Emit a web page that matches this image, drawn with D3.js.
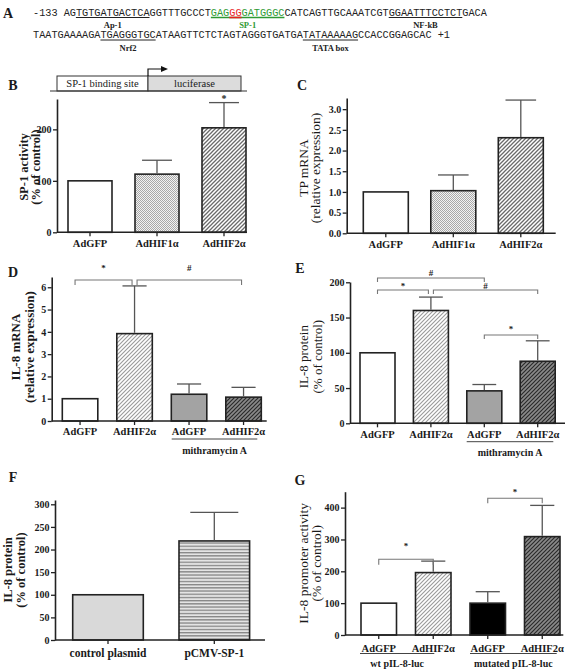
<!DOCTYPE html>
<html><head><meta charset="utf-8">
<script src="https://cdn.jsdelivr.net/npm/d3@7"></script>
<style>body{margin:0;background:#fff}svg{display:block}svg text{font-family:'Liberation Serif','Times New Roman',serif}</style>
</head><body>
<svg id="fig" width="570" height="671"></svg>
<script>
// ---------- Data ----------
const seqPrefix = "-133 ";
const seqLine1 = "AGTGTGATGACTCAGGTTTGCCCTGAGGGGATGGGCCATCAGTTGCAAATCGTGGAATTTCCTCTGACA";
const seqLine2 = "TAATGAAAAGATGAGGGTGCATAAGTTCTCTAGTAGGGTGATGATATAAAAAGCCACCGGAGCAC";
const seqSuffix = " +1";
// binding sites: line, start char index (incl. prefix), length, label
const sites = [
  {line: 1, start: 7, len: 12, label: "Ap-1"},
  {line: 1, start: 29, len: 12, label: "SP-1", color: "#2f9a34"},
  {line: 1, start: 58, len: 12, label: "NF-kB"},
  {line: 2, start: 11, len: 9, label: "Nrf2"},
  {line: 2, start: 44, len: 9, label: "TATA box"}
];

const catsB = ["AdGFP", "AdHIF1α", "AdHIF2α"];
const valsB = [100, 113, 203];
const errB  = [0, 27, 49];
const ticksB = [0, 100, 200];

const catsC = ["AdGFP", "AdHIF1α", "AdHIF2α"];
const valsC = [1.0, 1.03, 2.31];
const errC  = [0, 0.38, 0.91];
const ticksC = [0, 0.5, 1.0, 1.5, 2.0, 2.5, 3.0];

const catsD = ["AdGFP", "AdHIF2α", "AdGFP", "AdHIF2α"];
const valsD = [1.0, 3.92, 1.2, 1.07];
const errD  = [0, 2.14, 0.46, 0.44];
const ticksD = [0, 1, 2, 3, 4, 5, 6];

const catsE = ["AdGFP", "AdHIF2α", "AdGFP", "AdHIF2α"];
const valsE = [100, 160, 46, 88];
const errE  = [0, 19, 9, 29];
const ticksE = [0, 50, 100, 150, 200];

const catsF = ["control plasmid", "pCMV-SP-1"];
const valsF = [100, 219];
const errF  = [0, 63];
const ticksF = [0, 50, 100, 150, 200, 250, 300];

const catsG = ["AdGFP", "AdHIF2α", "AdGFP", "AdHIF2α"];
const valsG = [100, 196, 100, 309];
const errG  = [0, 36, 36, 98];
const ticksG = [0, 100, 200, 300, 400];

// ---------- Drawing ----------
const svg = d3.select("#fig");
const SERIF = "'Liberation Serif','Times New Roman',serif";
const INK = "#1a1a1a";
function serif(sel, size, weight) {
  return sel.style("font-family", SERIF).style("font-size", size + "px").style("font-weight", weight || "bold").attr("fill", INK);
}

// patterns
const defs = svg.append("defs");
function diagPattern(id, bg, stroke, sw) {
  const p = defs.append("pattern").attr("id", id).attr("patternUnits", "userSpaceOnUse")
    .attr("width", 4).attr("height", 4);
  p.append("rect").attr("width", 4).attr("height", 4).attr("fill", bg);
  p.append("path").attr("d", "M-1,1 L1,-1 M0,4 L4,0 M3,5 L5,3")
    .attr("stroke", stroke).attr("stroke-width", sw);
}
diagPattern("hatchB", "#fff", "#6a6a6a", 1.3);
diagPattern("hatchL", "#fff", "#9a9a9a", 1.1);
diagPattern("hatchD", "#8a8a8a", "#2a2a2a", 1.2);
(function(){
  const p = defs.append("pattern").attr("id", "dots").attr("patternUnits", "userSpaceOnUse")
    .attr("width", 2).attr("height", 2);
  p.append("rect").attr("width", 2).attr("height", 2).attr("fill", "#f2f2f2");
  p.append("rect").attr("width", 1).attr("height", 1).attr("fill", "#a8a8a8");
  p.append("rect").attr("x", 1).attr("y", 1).attr("width", 1).attr("height", 1).attr("fill", "#a8a8a8");
  const q = defs.append("pattern").attr("id", "hstripe").attr("patternUnits", "userSpaceOnUse")
    .attr("width", 4).attr("height", 3.2);
  q.append("rect").attr("width", 4).attr("height", 3.2).attr("fill", "#e4e4e4");
  q.append("rect").attr("y", 1.6).attr("width", 4).attr("height", 1.3).attr("fill", "#858585");
})();

// panel letters
[["A", 8, 13], ["B", 13, 85], ["C", 302, 85], ["D", 13, 272], ["E", 300, 268], ["F", 13, 477], ["G", 300, 480]]
  .forEach(([t, x, y]) => serif(svg.append("text").attr("x", x).attr("y", y).attr("dy", "0.36em")
    .attr("text-anchor", "middle"), 14).text(t));

// ---------- Panel A: sequence ----------
(function(){
  const x0 = 33, targetCw = 6.14;
  const mono = "'Liberation Mono','Courier New',monospace";
  const line1 = seqPrefix + seqLine1;
  const line2 = seqLine2 + seqSuffix;
  const base = {1: 15.5, 2: 38};
  const t1 = svg.append("text").attr("x", x0).attr("y", base[1]).style("font-family", mono)
    .style("font-size", "10px").attr("fill", "#222").attr("xml:space", "preserve");
  const green = sites[1];
  const redStart = 32, redLen = 2;
  const segs = [
    [line1.slice(0, green.start), "#222"],
    [line1.slice(green.start, redStart), green.color],
    [line1.slice(redStart, redStart + redLen), "#e8231f"],
    [line1.slice(redStart + redLen, green.start + green.len), green.color],
    [line1.slice(green.start + green.len), "#222"]
  ];
  segs.forEach(([s, c]) => t1.append("tspan").attr("fill", c).text(s));
  const cw0 = t1.node().getComputedTextLength() / line1.length;
  const fs = 10 * targetCw / cw0;
  t1.style("font-size", fs + "px");
  svg.append("text").attr("x", x0).attr("y", base[2]).style("font-family", mono)
    .style("font-size", fs + "px").attr("fill", "#222").attr("xml:space", "preserve").text(line2);
  const cw = t1.node().getComputedTextLength() / line1.length;
  sites.forEach(s => {
    const xa = x0 + s.start * cw, xb = x0 + (s.start + s.len) * cw;
    const uy = base[s.line] + 2;
    svg.append("line").attr("x1", xa).attr("x2", xb).attr("y1", uy).attr("y2", uy)
      .attr("stroke", s.color || "#222").attr("stroke-width", s.color ? 1.6 : 1);
    if (s.color) {
      svg.append("line").attr("x1", x0 + redStart * cw).attr("x2", x0 + (redStart + redLen) * cw)
        .attr("y1", uy).attr("y2", uy).attr("stroke", "#e8231f").attr("stroke-width", 1.6);
    }
    serif(svg.append("text").attr("x", (xa + xb) / 2).attr("y", base[s.line] + 12.5)
      .attr("text-anchor", "middle"), 8.5).attr("fill", s.color || "#222").text(s.label);
  });
})();

// ---------- Panel B schematic ----------
(function(){
  const g = svg.append("g");
  g.append("rect").attr("x", 57).attr("y", 76).attr("width", 91).attr("height", 15)
    .attr("fill", "#fff").attr("stroke", "#333").attr("stroke-width", 1);
  g.append("rect").attr("x", 148).attr("y", 76).attr("width", 93).attr("height", 15)
    .attr("fill", "#dcdcdc").attr("stroke", "#333").attr("stroke-width", 1);
  g.append("line").attr("x1", 50).attr("x2", 247).attr("y1", 91).attr("y2", 91)
    .attr("stroke", "#333").attr("stroke-width", 1.2);
  serif(g.append("text").attr("x", 102.5).attr("y", 83.5).attr("dy", "0.35em").attr("text-anchor", "middle"), 10.5, "normal").text("SP-1 binding site");
  serif(g.append("text").attr("x", 194.5).attr("y", 83.5).attr("dy", "0.35em").attr("text-anchor", "middle"), 10.5, "normal").text("luciferase");
  g.append("path").attr("d", "M148,76 V69 H162").attr("fill", "none").attr("stroke", "#111").attr("stroke-width", 1.2);
  g.append("path").attr("d", "M161,66 L168,69 L161,72 Z").attr("fill", "#111");
})();

// ---------- Generic bar panel ----------
function barPanel(c) {
  const g = svg.append("g");
  const n = c.cats.length;
  const y = d3.scaleLinear().domain([0, c.yMax]).range([c.yBottom, c.yTop]);
  const pad = (c.step - c.barW) / c.step;
  const x = d3.scaleBand().domain(d3.range(n))
    .range([c.barLeft, c.barLeft + n * c.step - (c.step - c.barW)])
    .paddingInner(pad).paddingOuter(0);
  const cx = i => x(i) + x.bandwidth() / 2;

  g.selectAll("rect.bar").data(c.vals).join("rect").attr("class", "bar")
    .attr("x", (d, i) => x(i)).attr("width", x.bandwidth())
    .attr("y", d => y(d)).attr("height", d => y(0) - y(d))
    .attr("fill", (d, i) => c.fills[i]).attr("stroke", "#222").attr("stroke-width", 1.6);

  const capW = x.bandwidth() * 0.68;
  c.vals.forEach((v, i) => {
    const e = c.errs[i];
    if (!e) return;
    g.append("line").attr("x1", cx(i)).attr("x2", cx(i)).attr("y1", y(v) - 0.8).attr("y2", y(v + e))
      .attr("stroke", "#555").attr("stroke-width", 1.3);
    g.append("line").attr("x1", cx(i) - capW / 2).attr("x2", cx(i) + capW / 2)
      .attr("y1", y(v + e)).attr("y2", y(v + e)).attr("stroke", "#555").attr("stroke-width", 1.3);
  });

  const ya = g.append("g").attr("transform", `translate(${c.axisX},0)`)
    .call(d3.axisLeft(y).tickValues(c.ticks).tickFormat(c.fmt || d3.format("d")).tickSize(4).tickSizeOuter(0));
  ya.select(".domain").attr("stroke", "#222").attr("stroke-width", 1.6);
  ya.selectAll(".tick line").attr("stroke", "#222").attr("stroke-width", 1.3);
  serif(ya.selectAll(".tick text"), c.tickFs || 10).attr("x", -5.5);

  g.append("line").attr("x1", c.axisX).attr("x2", c.xEnd).attr("y1", c.yBottom).attr("y2", c.yBottom)
    .attr("stroke", "#222").attr("stroke-width", 1.6);
  const xa = g.append("g").attr("transform", `translate(0,${c.yBottom})`)
    .call(d3.axisBottom(x).tickSize(4).tickFormat(i => c.cats[i]));
  xa.select(".domain").remove();
  xa.selectAll(".tick line").attr("stroke", "#222").attr("stroke-width", 1.3);
  serif(xa.selectAll(".tick text"), c.catFs || 10.5)
    .attr("y", c.catY - c.yBottom).attr("dy", "0.35em");

  c.ylab.forEach((t, k) => {
    serif(g.append("text").attr("transform", `translate(${c.ylabX[k]},${c.ylabY}) rotate(-90)`)
      .attr("text-anchor", "middle").attr("dy", "0.35em"), c.ylabFs || 12.5, c.ylabW || "bold").text(t);
  });

  (c.brackets || []).forEach(b => {
    const xa1 = cx(b.a) + (b.insetA || 0), xb1 = cx(b.b) + (b.insetB || 0);
    g.append("path").attr("d", `M${xa1},${b.y + b.drop} V${b.y} H${xb1} V${b.y + b.drop}`)
      .attr("fill", "none").attr("stroke", "#777").attr("stroke-width", 1.1);
    serif(g.append("text").attr("x", (xa1 + xb1) / 2).attr("y", b.ly).attr("dy", "0.35em")
      .attr("text-anchor", "middle"), 9).text(b.label);
  });

  (c.groups || []).forEach(gr => {
    g.append("line").attr("x1", gr.x1).attr("x2", gr.x2).attr("y1", gr.y).attr("y2", gr.y)
      .attr("stroke", "#444").attr("stroke-width", 1);
    serif(g.append("text").attr("x", (gr.x1 + gr.x2) / 2).attr("y", gr.ty).attr("dy", "0.35em")
      .attr("text-anchor", "middle"), 10).text(gr.label);
  });
  (c.stars || []).forEach(s => {
    serif(g.append("text").attr("x", cx(s.i)).attr("y", s.y).attr("dy", "0.35em").attr("text-anchor", "middle"), 10).text("*");
  });
}

// B
barPanel({cats: catsB, vals: valsB, errs: errB, ticks: ticksB,
  fills: ["#fff", "url(#dots)", "url(#hatchB)"],
  axisX: 57, xEnd: 247, yBottom: 232.3, yTop: 99, yMax: 259,
  barLeft: 68, step: 67, barW: 44, catY: 243,
  ylab: ["SP-1 activity", "(% of control)"], ylabX: [24, 35.5], ylabY: 167,
  stars: [{i: 2, y: 98}]});

// C
barPanel({cats: catsC, vals: valsC, errs: errC, ticks: ticksC, fmt: d3.format(".1f"),
  fills: ["#fff", "url(#dots)", "url(#hatchB)"],
  axisX: 346.7, xEnd: 555.7, yBottom: 233.3, yTop: 98, yMax: 3.27,
  barLeft: 363.3, step: 67.5, barW: 45, catY: 244,
  ylab: ["TP mRNA", "(relative expression)"], ylabX: [303, 315], ylabY: 168, ylabW: "normal", ylabFs: 13.5});

// D
barPanel({cats: catsD, vals: valsD, errs: errD, ticks: ticksD,
  fills: ["#fff", "url(#hatchL)", "#a3a3a3", "url(#hatchD)"],
  axisX: 51.7, xEnd: 266.7, yBottom: 421, yTop: 277, yMax: 6.46,
  barLeft: 62.3, step: 54.5, barW: 35.5, catY: 431.7,
  ylab: ["IL-8 mRNA", "(relative expression)"], ylabX: [15, 29], ylabY: 347, ylabFs: 13,
  brackets: [
    {a: 0, b: 1, y: 280, drop: 5, label: "*", ly: 268, insetA: -5, insetB: -2.5},
    {a: 1, b: 3, y: 280, drop: 5, label: "#", ly: 268, insetA: 2.5, insetB: -2}
  ],
  groups: [{x1: 171.7, x2: 257.3, y: 439, label: "mithramycin A", ty: 450.5}]});

// E
barPanel({cats: catsE, vals: valsE, errs: errE, ticks: ticksE,
  fills: ["#fff", "url(#hatchL)", "#a3a3a3", "url(#hatchD)"],
  axisX: 350, xEnd: 565, yBottom: 423.3, yTop: 282, yMax: 200.4,
  barLeft: 360, step: 53.4, barW: 35, catY: 434,
  ylab: ["IL-8 protein", "(% of control)"], ylabX: [303.3, 317.3], ylabY: 356.7, ylabW: "normal", ylabFs: 13,
  brackets: [
    {a: 0, b: 2, y: 278, drop: 4, label: "#", ly: 272.5},
    {a: 0, b: 1, y: 290, drop: 4, label: "*", ly: 286, insetB: -2.5},
    {a: 1, b: 3, y: 290, drop: 4, label: "#", ly: 286, insetA: 2.5},
    {a: 2, b: 3, y: 335, drop: 4, label: "*", ly: 329}
  ],
  groups: [{x1: 466.7, x2: 553.3, y: 441.7, label: "mithramycin A", ty: 452}]});

// F
barPanel({cats: catsF, vals: valsF, errs: errF, ticks: ticksF,
  fills: ["#d9d9d9", "url(#hstripe)"],
  axisX: 55, xEnd: 265, yBottom: 640, yTop: 500, yMax: 309.5,
  barLeft: 72.7, step: 106.3, barW: 70.6, catY: 652.7, catFs: 11.5,
  ylab: ["IL-8 protein", "(% of control)"], ylabX: [7.5, 20.7], ylabY: 570, ylabFs: 12.5});

// G
barPanel({cats: catsG, vals: valsG, errs: errG, ticks: ticksG,
  fills: ["#fff", "url(#hatchL)", "#000", "url(#hatchD)"],
  axisX: 345, xEnd: 563.3, yBottom: 635, yTop: 491.7, yMax: 450,
  barLeft: 361, step: 54.5, barW: 35.5, catY: 648.3,
  ylab: ["IL-8 promoter activity", "(% of control)"], ylabX: [303.3, 316.7], ylabY: 563.3, ylabW: "normal", ylabFs: 13.5,
  brackets: [
    {a: 0, b: 1, y: 559.3, drop: 5.5, label: "*", ly: 545.5},
    {a: 2, b: 3, y: 498.3, drop: 5, label: "*", ly: 491.5}
  ],
  groups: [
    {x1: 360, x2: 434.3, y: 653.5, label: "wt pIL-8-luc", ty: 663.5},
    {x1: 470, x2: 556.7, y: 653.5, label: "mutated pIL-8-luc", ty: 663.5}
  ]});
</script>
</body></html>
